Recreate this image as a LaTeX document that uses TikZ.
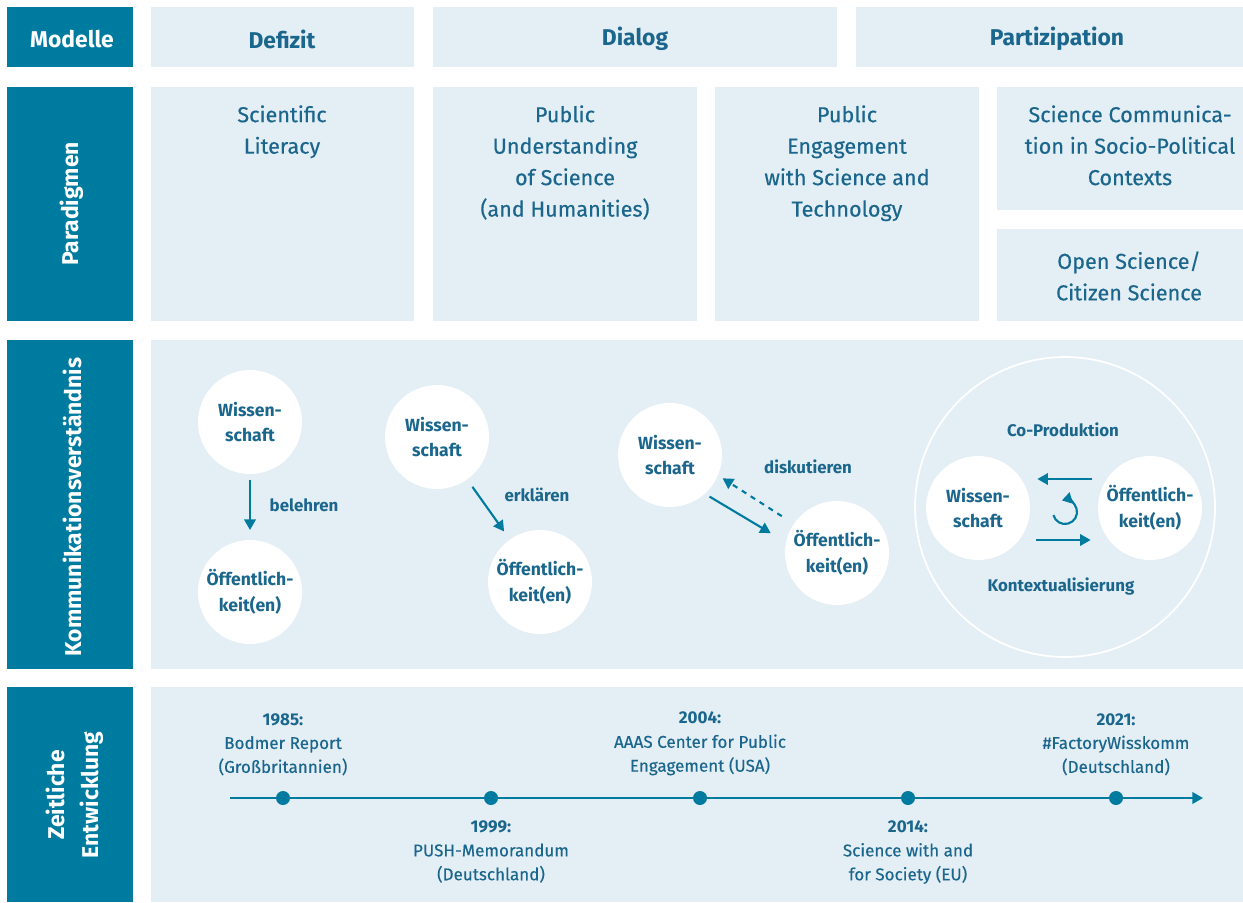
\documentclass[tikz,border=0pt]{standalone}
\usepackage{fontspec}
\setmainfont{Fira Sans}[UprightFeatures={FakeBold=0.35}]
\usetikzlibrary{calc}
\usetikzlibrary{arrows.meta}
\usetikzlibrary{positioning}

\definecolor{hdblue}{RGB}{0,123,160}
\definecolor{panelblue}{RGB}{228,238,245}
\definecolor{inkblue}{RGB}{26,102,140}

\begin{document}
\begin{tikzpicture}[x=0.02cm,y=-0.02cm,
  headtxt/.style={text=white,font=\bfseries\fontsize{13}{19.5}\selectfont,align=center},
  modtxt/.style={text=inkblue,font=\bfseries\fontsize{13}{15}\selectfont},
  partxt/.style={text=inkblue,font=\fontsize{12.3}{17.9}\selectfont,align=center,inner sep=0pt},
  blob/.style={circle,fill=white,minimum size=2.08cm,inner sep=0pt,text=inkblue,align=center,font=\bfseries\fontsize{10}{14.5}\selectfont},
  verb/.style={text=inkblue,font=\bfseries\fontsize{9.6}{11}\selectfont},
  arr/.style={draw=hdblue,line width=1.2pt,-{Triangle[length=6pt,width=6.5pt]}},
  dot/.style={circle,fill=hdblue,minimum size=0.28cm,inner sep=0pt},
  tltxt/.style={text=inkblue,font=\fontsize{9.7}{13.6}\selectfont,align=center,inner sep=0pt}]

  \useasboundingbox (0,0) rectangle (1243,902);

  % left column
  \fill[hdblue] (7,7) rectangle (133,67);
  \fill[hdblue] (7,87) rectangle (133,321);
  \fill[hdblue] (7,340) rectangle (133,669);
  \fill[hdblue] (7,687) rectangle (133,902);

  \node[headtxt] (hmod) at (72,39) {Modelle};
  \node[headtxt,rotate=90] (hpar) at (72,204) {Paradigmen};
  \node[headtxt,rotate=90] (hkom) at (72,507) {Kommunikationsverständnis};
  \node[headtxt,rotate=90] (hzeit) at (75,795) {Zeitliche\\Entwicklung};

  % Modelle
  \fill[panelblue] (151,7) rectangle (414,67);
  \fill[panelblue] (433,7) rectangle (837,67);
  \fill[panelblue] (856,7) rectangle (1243,67);
  \node[modtxt] (mdef) at (282,39) {Defizit};
  \node[modtxt] (mdia) at (635,39) {Dialog};
  \node[modtxt] (mpart) at (1057,39) {Partizipation};

  % Paradigmen
  \fill[panelblue] (151,87) rectangle (414,321);
  \fill[panelblue] (433,87) rectangle (697,321);
  \fill[panelblue] (715,87) rectangle (979,321);
  \fill[panelblue] (997,87) rectangle (1243,210);
  \fill[panelblue] (997,229) rectangle (1243,321);
  \node[partxt,anchor=north] (psl) at (282,105) {Scientific\\Literacy};
  \node[partxt,anchor=north] (pus) at (565,105) {Public\\Understanding\\of Science\\(and Humanities)};
  \node[partxt,anchor=north] (pest) at (847,105) {Public\\Engagement\\with Science and\\Technology};
  \node[partxt,anchor=north] (pscs) at (1130,105) {Science Communica-\\tion in Socio-Political\\Contexts};
  \node[partxt] (pos) at (1129,276) {Open Science/\\Citizen Science};

  % Kommunikationsverstaendnis
  \fill[panelblue] (151,340) rectangle (1243,669);

  \node[blob] (w1) at (250,422) {Wissen-\\schaft};
  \node[blob] (o1) at (250,592) {Öffentlich-\\keit(en)};
  \draw[arr,shorten <=3pt,shorten >=5.5pt] (w1) -- (o1);
  \node[verb] (v1) at (304,505) {belehren};

  \node[blob] (w2) at (437,437) {Wissen-\\schaft};
  \node[blob] (o2) at (540,582) {Öffentlich-\\keit(en)};
  \draw[arr,shorten <=5pt,shorten >=5.5pt] (w2) -- (o2);
  \node[verb] (v2) at (537,495) {erklären};

  \node[blob] (w3) at (670,455) {Wissen-\\schaft};
  \node[blob] (o3) at (837,553) {Öffentlich-\\keit(en)};
  \draw[arr,shorten <=3pt,shorten >=10pt] (w3.-48) -- (o3.168);
  \draw[arr,dashed,shorten <=8pt,shorten >=3pt] (o3.146) -- (w3.-23);
  \node[verb] (v3) at (808,467) {diskutieren};

  \node[circle,draw=white,line width=1pt,minimum size=6cm] (ring) at (1065,507) {};
  \node[blob] (w4) at (978,508) {Wissen-\\schaft};
  \node[blob] (o4) at (1150,508) {Öffentlich-\\keit(en)};
  \draw[arr,shorten <=3pt,shorten >=4pt] ([yshift=0.58cm]o4.west) -- ([yshift=0.58cm]w4.east);
  \draw[arr,shorten <=3pt,shorten >=4pt] ([yshift=-0.64cm]w4.east) -- ([yshift=-0.64cm]o4.west);
  \coordinate (cyc) at (1065,512);
  \draw[draw=hdblue,line width=1.2pt,-{Triangle[length=5.5pt,width=6.5pt]}] (cyc) ++(195:0.24cm) arc[start angle=195,end angle=465,radius=0.24cm];
  \node[verb] (coprod) at (1063,430) {Co-Produktion};
  \node[verb] (kontext) at (1061,587) {Kontextualisierung};

  % Zeitliche Entwicklung
  \fill[panelblue] (151,687) rectangle (1243,902);
  \coordinate (tl0) at (230,798);
  \coordinate (tl1) at (1203,798);
  \draw[arr] (tl0) -- (tl1);

  \node[dot] (t1) at (283,798) {};
  \node[dot] (t2) at (491,798) {};
  \node[dot] (t3) at (700,798) {};
  \node[dot] (t4) at (908,798) {};
  \node[dot] (t5) at (1116,798) {};

  \node[tltxt,above=0.3cm of t1] (y85) {\textbf{1985:}\\Bodmer Report\\(Großbritannien)};
  \node[tltxt,above=0.3cm of t3] (y04) {\textbf{2004:}\\AAAS Center for Public\\Engagement (USA)};
  \node[tltxt,above=0.3cm of t5] (y21) {\textbf{2021:}\\\#FactoryWisskomm\\(Deutschland)};
  \node[tltxt,below=0.3cm of t2] (y99) {\textbf{1999:}\\PUSH-Memorandum\\(Deutschland)};
  \node[tltxt,below=0.3cm of t4] (y14) {\textbf{2014:}\\Science with and\\for Society (EU)};

\end{tikzpicture}
\end{document}
